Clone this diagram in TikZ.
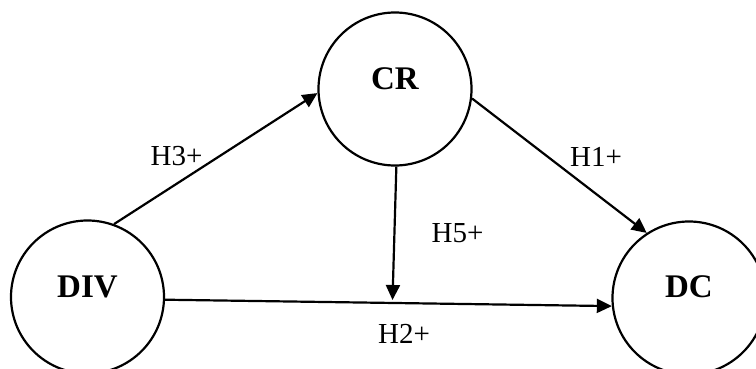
\documentclass[tikz,border=0pt]{standalone}
\usepackage{fontspec}
\setmainfont{Liberation Serif}
\usetikzlibrary{arrows.meta}
\begin{document}
\begin{tikzpicture}[x=1pt,y=1pt,
  construct/.style={circle,draw,line width=2.2pt,minimum size=153pt,inner sep=0pt},
  cname/.style={font=\fontsize{33}{38}\selectfont\bfseries},
  hyp/.style={font=\fontsize{29}{34}\selectfont,inner sep=0pt},
  path/.style={line width=2.2pt,-{Triangle[length=15pt,width=14pt]}}]
\useasboundingbox (0,0) rectangle (756,368);
% constructs
\node[construct,label={[cname,yshift=10pt]center:CR}]  (CR)  at (395,279) {};
\node[construct,label={[cname,yshift=10pt]center:DIV}] (DIV) at (87.5,71) {};
\node[construct,label={[cname,yshift=11pt]center:DC}]  (DC)  at (689,70) {};
\coordinate (H5end) at (392.5,68);
% hypothesised paths
\draw[path] (DIV.70) -- (CR.183);
\draw[path] (CR.353) -- (DC.123.7);
\draw[path] (CR.271) -- (H5end);
\draw[path] (DIV.358.5) -- (DC.186);
% path labels
\node[hyp] (l3) at (176.5,211.5) {H3+};
\node[hyp] (l1) at (596,211) {H1+};
\node[hyp] (l5) at (457.5,134.5) {H5+};
\node[hyp] (l2) at (404,34.5) {H2+};
\end{tikzpicture}
\end{document}
